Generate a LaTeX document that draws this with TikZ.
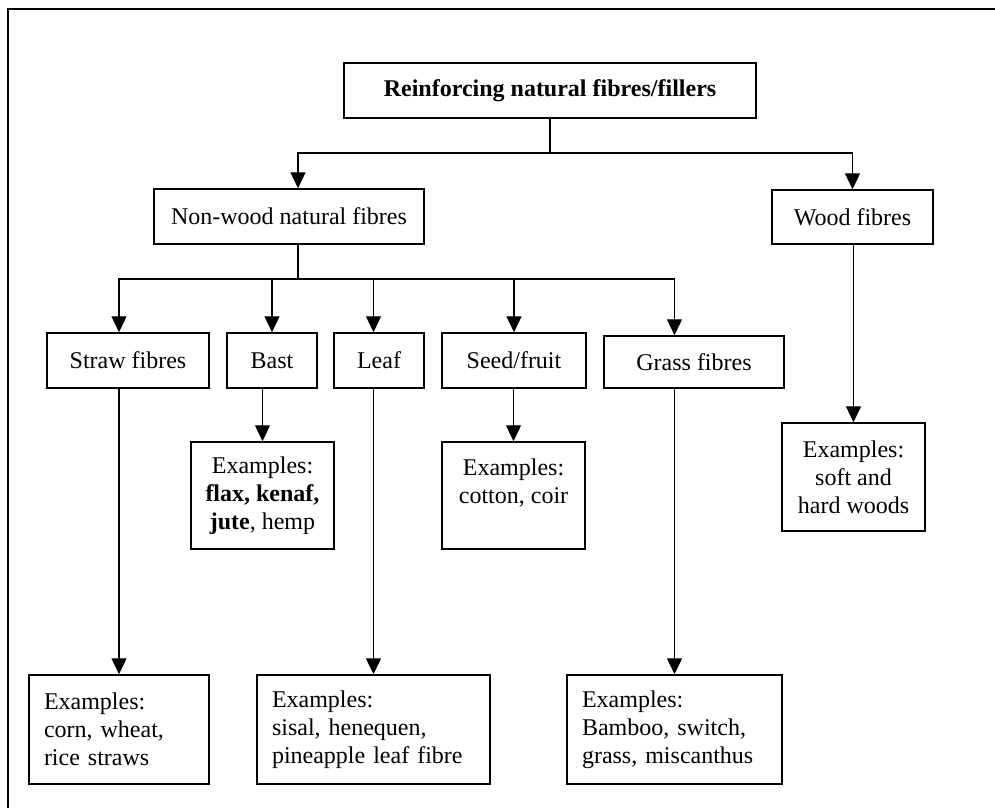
\documentclass[tikz,border=0pt]{standalone}
\usepackage{fontspec}
\setmainfont{Liberation Serif}
\usetikzlibrary{arrows.meta,positioning}

\begin{document}
\begin{tikzpicture}[x=1pt,y=-1pt,
    font=\fontsize{24}{28}\selectfont,
    catbox/.style={draw, line width=1.5pt, inner sep=0pt, align=center},
    exbox/.style={catbox, align=left, inner xsep=15pt},
    link/.style={line width=1.3pt},
    arr/.style={link, -{Triangle[length=16pt,width=15pt]}}]
    \useasboundingbox (0,0) rectangle (995,808);
    \draw[line width=1.8pt] (8,808) -- (8,9) -- (995,9);

    \node[catbox, minimum width=412pt, minimum height=55pt] (top) at (550,90.5) {\textbf{Reinforcing natural fibres/fillers}};
    \node[catbox, minimum width=270pt, minimum height=55pt] (nonwood) at (289,216.5) {Non-wood natural fibres};
    \node[catbox, minimum width=161pt, minimum height=54pt] (wood) at (852.5,217) {Wood fibres};

    \node[catbox, minimum width=162pt, minimum height=55pt] (straw) at (128,360.5) {Straw fibres};
    \node[catbox, minimum width=90pt, minimum height=55pt] (bast) at (272,360.5) {Bast};
    \node[catbox, minimum width=90pt, minimum height=55pt] (leaf) at (379,360.5) {Leaf};
    \node[catbox, minimum width=144pt, minimum height=55pt] (seed) at (514,360.5) {Seed/fruit};
    \node[catbox, minimum width=180pt, minimum height=52pt] (grass) at (694,362) {Grass fibres};

    \node[catbox, minimum width=143pt, minimum height=107pt] (bastex) at (262.5,495.5) {Examples:\\\textbf{flax, kenaf,}\\\textbf{jute}, hemp};
    \node[catbox, minimum width=143pt, minimum height=107pt] (seedex) at (513.5,495.5) {Examples:\\cotton, coir\\~};
    \node[catbox, minimum width=143pt, minimum height=108pt] (woodex) at (853.5,477) {Examples:\\soft and\\hard woods};

    \node[exbox, text width=150pt, minimum height=109pt] (strawex) at (119,729.5) {Examples:\\corn, wheat,\\rice straws};
    \node[exbox, text width=203pt, minimum height=109pt] (leafex) at (373.5,729.5) {Examples:\\sisal, henequen,\\pineapple leaf fibre};
    \node[exbox, text width=185pt, minimum height=109pt] (grassex) at (674.5,729.5) {Examples:\\Bamboo, switch,\\grass, miscanthus};

    \coordinate (split1) at (550,153);
    \coordinate (split2) at (298,279);

    \draw[link] (top.south) -- (split1);
    \draw[arr] (split1) -| (split2 |- nonwood.north);
    \draw[arr] (split1) -| (wood.north);
    \draw[link] (nonwood.south -| split2) -- (split2);

    \draw[arr] (split2) -| (strawex.north |- straw.north);
    \draw[arr] (split2) -| (bast.north);
    \draw[arr] (split2) -| (leafex.north |- leaf.north);
    \draw[arr] (split2) -| (seed.north);
    \draw[arr] (split2) -| (grassex.north |- grass.north);

    \draw[arr] (straw.south -| strawex.north) -- (strawex.north);
    \draw[arr] (bast.south -| bastex.north) -- (bastex.north);
    \draw[arr] (leaf.south -| leafex.north) -- (leafex.north);
    \draw[arr] (seed.south -| seedex.north) -- (seedex.north);
    \draw[arr] (grass.south -| grassex.north) -- (grassex.north);
    \draw[arr] (wood.south -| woodex.north) -- (woodex.north);
\end{tikzpicture}
\end{document}
